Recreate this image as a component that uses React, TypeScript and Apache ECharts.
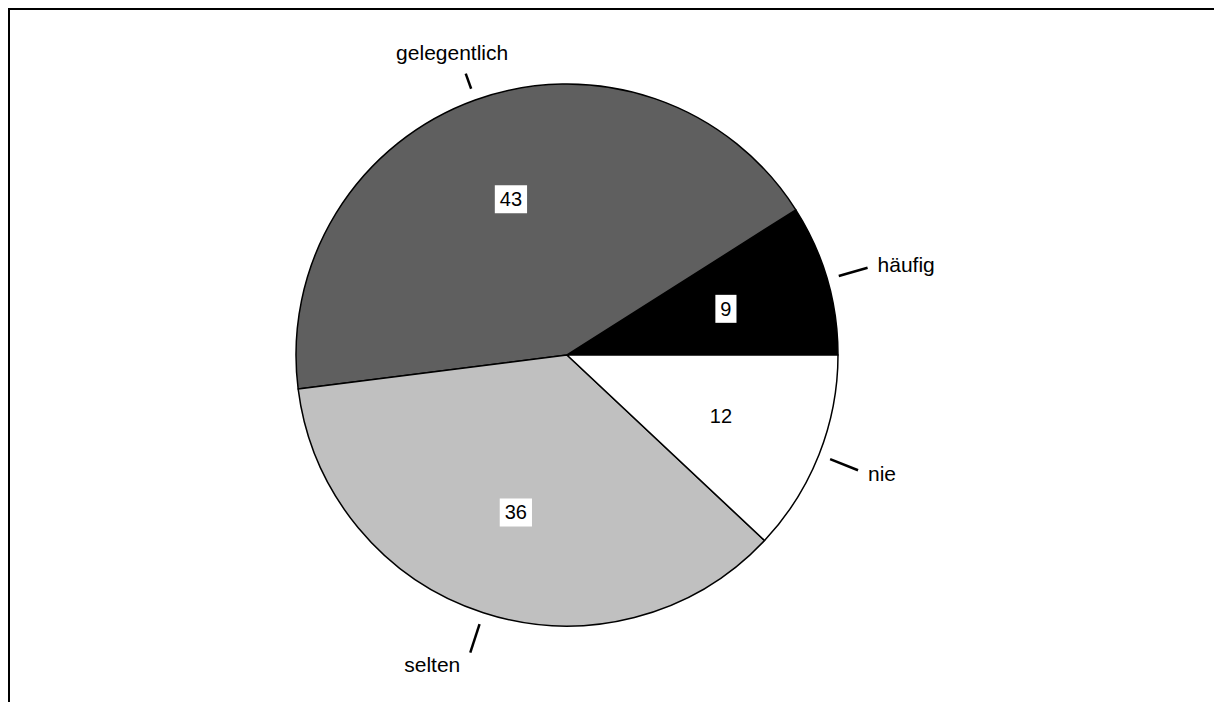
import React, { useEffect, useRef } from "react";
import * as echarts from "echarts";

const categories = ["häufig", "gelegentlich", "selten", "nie"];
const values = [9, 43, 36, 12];
const sliceColors = ["#000000", "#5f5f5f", "#c0c0c0", "#ffffff"];

const FONT = "'Liberation Sans', Arial, sans-serif";

export default function App() {
  const ref = useRef<HTMLDivElement>(null);
  useEffect(() => {
    if (!ref.current) return;
    const chart = echarts.init(ref.current, undefined, { renderer: "svg" });
    const center = [567, 355];
    const R = 271;

    const mainData = categories.map((name, i) => ({
      name,
      value: values[i],
      itemStyle: { color: sliceColors[i] },
    }));

    const outerData = categories.map((name, i) => ({
      name,
      value: values[i],
      labelLine: { length: name === "gelegentlich" ? 16 : 30 },
    }));

    const innerData = categories.map((name, i) => ({
      name,
      value: values[i],
    }));

    chart.setOption({
      animation: false,
      backgroundColor: "#ffffff",
      graphic: [
        {
          type: "polyline",
          shape: { points: [[9, 720], [9, 9], [1230, 9]] },
          style: { fill: null, stroke: "#000", lineWidth: 2 },
          silent: true,
          z: 100,
        },
      ],
      series: [
        {
          type: "pie",
          center,
          radius: [0, R],
          startAngle: 0,
          clockwise: false,
          silent: true,
          label: { show: false },
          labelLine: { show: false },
          itemStyle: { borderColor: "#000", borderWidth: 1.5 },
          data: mainData,
        },
        {
          type: "pie",
          center,
          radius: [0, R + 12],
          startAngle: 0,
          clockwise: false,
          silent: true,
          avoidLabelOverlap: false,
          itemStyle: { color: "transparent", borderWidth: 0 },
          label: {
            show: true,
            position: "outside",
            formatter: "{b}",
            fontFamily: FONT,
            fontSize: 21,
            color: "#000",
            alignTo: "none",
          },
          labelLine: {
            show: true,
            length: 30,
            length2: 0,
            lineStyle: { color: "#000", width: 2.5 },
          },
          labelLayout: (p: any) => {
            const pts = p.labelLinePoints;
            if (!pts || pts.length < 2) return {};
            const s = pts[0];
            const e = pts[pts.length - 1];
            const len = Math.hypot(e[0] - s[0], e[1] - s[1]) || 1;
            const ux = (e[0] - s[0]) / len;
            const uy = (e[1] - s[1]) / len;
            if (Math.abs(ux) > 0.6) {
              return {
                x: e[0] + (ux > 0 ? 10 : -10),
                y: e[1] + uy * 10,
                align: ux > 0 ? "left" : "right",
                verticalAlign: "middle",
                labelLinePoints: pts,
              };
            }
            if (uy < 0) {
              return {
                x: e[0] + ux * 40,
                y: e[1] - 11,
                align: "center",
                verticalAlign: "bottom",
                labelLinePoints: pts,
              };
            }
            return {
              x: e[0] - 10,
              y: e[1] + 1,
              align: "right",
              verticalAlign: "top",
              labelLinePoints: pts,
            };
          },
          data: outerData,
        },
        {
          type: "pie",
          center,
          radius: [54, R],
          startAngle: 0,
          clockwise: false,
          silent: true,
          itemStyle: { color: "transparent", borderWidth: 0 },
          label: {
            show: true,
            position: "inside",
            formatter: "{c}",
            fontFamily: FONT,
            fontSize: 20,
            lineHeight: 20,
            color: "#000",
            backgroundColor: "#ffffff",
            padding: [4, 5],
          },
          labelLine: { show: false },
          data: innerData,
        },
      ],
    });
    return () => chart.dispose();
  }, []);
  return (
    <div
      ref={ref}
      style={{ position: "absolute", left: 0, top: 0, width: 1214, height: 702 }}
    />
  );
}
